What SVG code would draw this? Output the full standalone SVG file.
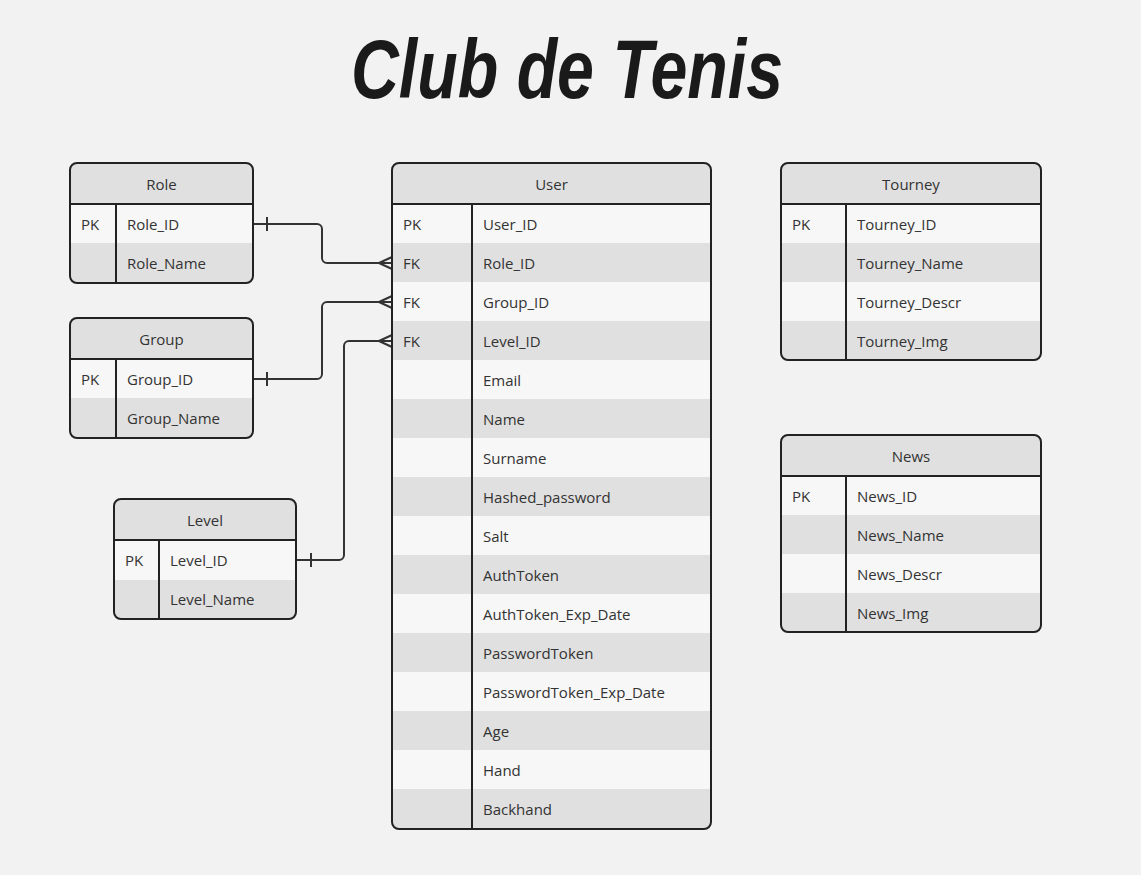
<svg xmlns="http://www.w3.org/2000/svg" width="1141" height="875" viewBox="0 0 1141 875">
<style>
.bg{fill:#f2f2f2}
.hd{fill:#e0e0e0}
.lt{fill:#f7f7f7}
.dk{fill:#e0e0e0}
.ol{fill:none;stroke:#222;stroke-width:2}
.ln{stroke:#222;stroke-width:2;fill:none}
.t{font-family:"Open Sans","Noto Sans",sans-serif;font-size:15px;fill:#333}
.c{text-anchor:middle}
.title{font-family:"Liberation Sans",sans-serif;font-weight:bold;font-style:italic;font-size:84px;fill:#1a1a1a}
.cn{stroke:#333;stroke-width:2;fill:none;stroke-linejoin:round}
</style>
<defs>
<clipPath id="cRole"><rect x="70" y="163" width="183" height="120" rx="7"/></clipPath>
<clipPath id="cGroup"><rect x="70" y="318" width="183" height="120" rx="7"/></clipPath>
<clipPath id="cLevel"><rect x="114" y="499" width="182" height="120" rx="7"/></clipPath>
<clipPath id="cUser"><rect x="392" y="163" width="319" height="666" rx="7"/></clipPath>
<clipPath id="cTourney"><rect x="781" y="163" width="260" height="197" rx="7"/></clipPath>
<clipPath id="cNews"><rect x="781" y="435" width="260" height="197" rx="7"/></clipPath>
</defs>
<rect class="bg" x="0" y="0" width="1141" height="875"/>
<text class="title c" x="567" y="98" textLength="432" lengthAdjust="spacingAndGlyphs">Club de Tenis</text>

<g id="connectors">
<path class="cn" d="M253,224 H317 a5,5 0 0 1 5,5 V258 a5,5 0 0 0 5,5 H392"/>
<path class="cn" d="M267,217 V231"/>
<path class="cn" d="M392,257 L379,263 L392,269"/>
<path class="cn" d="M253,379 H317 a5,5 0 0 0 5,-5 V307 a5,5 0 0 1 5,-5 H392"/>
<path class="cn" d="M267,372 V386"/>
<path class="cn" d="M392,296 L379,302 L392,308"/>
<path class="cn" d="M296,560 H339 a5,5 0 0 0 5,-5 V346 a5,5 0 0 1 5,-5 H392"/>
<path class="cn" d="M311,553 V567"/>
<path class="cn" d="M392,335 L379,341 L392,347"/>
</g>

<g id="role">
<g clip-path="url(#cRole)">
<rect class="hd" x="70" y="163" width="183" height="41"/>
<rect class="lt" x="70" y="204" width="183" height="39"/>
<rect class="dk" x="70" y="243" width="183" height="40"/>
</g>
<line class="ln" x1="70" y1="204" x2="253" y2="204"/>
<line class="ln" x1="116" y1="204" x2="116" y2="283"/>
<rect class="ol" x="70" y="163" width="183" height="120" rx="7"/>
<text class="t c" x="161.5" y="190">Role</text>
<text class="t" x="81" y="230">PK</text>
<text class="t" x="127" y="230">Role_ID</text>
<text class="t" x="127" y="269">Role_Name</text>
</g>

<g id="group">
<g clip-path="url(#cGroup)">
<rect class="hd" x="70" y="318" width="183" height="41"/>
<rect class="lt" x="70" y="359" width="183" height="39"/>
<rect class="dk" x="70" y="398" width="183" height="40"/>
</g>
<line class="ln" x1="70" y1="359" x2="253" y2="359"/>
<line class="ln" x1="116" y1="359" x2="116" y2="438"/>
<rect class="ol" x="70" y="318" width="183" height="120" rx="7"/>
<text class="t c" x="161.5" y="345">Group</text>
<text class="t" x="81" y="385">PK</text>
<text class="t" x="127" y="385">Group_ID</text>
<text class="t" x="127" y="424">Group_Name</text>
</g>

<g id="level">
<g clip-path="url(#cLevel)">
<rect class="hd" x="114" y="499" width="182" height="41"/>
<rect class="lt" x="114" y="540" width="182" height="40"/>
<rect class="dk" x="114" y="580" width="182" height="39"/>
</g>
<line class="ln" x1="114" y1="540" x2="296" y2="540"/>
<line class="ln" x1="159" y1="540" x2="159" y2="619"/>
<rect class="ol" x="114" y="499" width="182" height="120" rx="7"/>
<text class="t c" x="205" y="526">Level</text>
<text class="t" x="125" y="566">PK</text>
<text class="t" x="170" y="566">Level_ID</text>
<text class="t" x="170" y="605">Level_Name</text>
</g>

<g id="user">
<g clip-path="url(#cUser)">
<rect class="lt" x="392" y="163" width="319" height="666"/>
<rect class="hd" x="392" y="163" width="319" height="41"/>
<rect class="dk" x="392" y="243" width="319" height="39"/>
<rect class="dk" x="392" y="321" width="319" height="39"/>
<rect class="dk" x="392" y="399" width="319" height="39"/>
<rect class="dk" x="392" y="477" width="319" height="39"/>
<rect class="dk" x="392" y="555" width="319" height="39"/>
<rect class="dk" x="392" y="633" width="319" height="39"/>
<rect class="dk" x="392" y="711" width="319" height="39"/>
<rect class="dk" x="392" y="789" width="319" height="40"/>
</g>
<line class="ln" x1="392" y1="204" x2="711" y2="204"/>
<line class="ln" x1="472" y1="204" x2="472" y2="829"/>
<rect class="ol" x="392" y="163" width="319" height="666" rx="7"/>
<text class="t c" x="551.5" y="190">User</text>
<text class="t" x="403" y="230">PK</text>
<text class="t" x="403" y="269">FK</text>
<text class="t" x="403" y="308">FK</text>
<text class="t" x="403" y="347">FK</text>
<text class="t" x="483" y="230">User_ID</text>
<text class="t" x="483" y="269">Role_ID</text>
<text class="t" x="483" y="308">Group_ID</text>
<text class="t" x="483" y="347">Level_ID</text>
<text class="t" x="483" y="386">Email</text>
<text class="t" x="483" y="425">Name</text>
<text class="t" x="483" y="464">Surname</text>
<text class="t" x="483" y="503">Hashed_password</text>
<text class="t" x="483" y="542">Salt</text>
<text class="t" x="483" y="581">AuthToken</text>
<text class="t" x="483" y="620">AuthToken_Exp_Date</text>
<text class="t" x="483" y="659">PasswordToken</text>
<text class="t" x="483" y="698">PasswordToken_Exp_Date</text>
<text class="t" x="483" y="737">Age</text>
<text class="t" x="483" y="776">Hand</text>
<text class="t" x="483" y="815">Backhand</text>
</g>

<g id="tourney">
<g clip-path="url(#cTourney)">
<rect class="lt" x="781" y="163" width="260" height="197"/>
<rect class="hd" x="781" y="163" width="260" height="41"/>
<rect class="dk" x="781" y="243" width="260" height="39"/>
<rect class="dk" x="781" y="321" width="260" height="39"/>
</g>
<line class="ln" x1="781" y1="204" x2="1041" y2="204"/>
<line class="ln" x1="846" y1="204" x2="846" y2="360"/>
<rect class="ol" x="781" y="163" width="260" height="197" rx="7"/>
<text class="t c" x="911" y="190">Tourney</text>
<text class="t" x="792" y="230">PK</text>
<text class="t" x="857" y="230">Tourney_ID</text>
<text class="t" x="857" y="269">Tourney_Name</text>
<text class="t" x="857" y="308">Tourney_Descr</text>
<text class="t" x="857" y="347">Tourney_Img</text>
</g>

<g id="news">
<g clip-path="url(#cNews)">
<rect class="lt" x="781" y="435" width="260" height="197"/>
<rect class="hd" x="781" y="435" width="260" height="41"/>
<rect class="dk" x="781" y="515" width="260" height="39"/>
<rect class="dk" x="781" y="593" width="260" height="39"/>
</g>
<line class="ln" x1="781" y1="476" x2="1041" y2="476"/>
<line class="ln" x1="846" y1="476" x2="846" y2="632"/>
<rect class="ol" x="781" y="435" width="260" height="197" rx="7"/>
<text class="t c" x="911" y="462">News</text>
<text class="t" x="792" y="502">PK</text>
<text class="t" x="857" y="502">News_ID</text>
<text class="t" x="857" y="541">News_Name</text>
<text class="t" x="857" y="580">News_Descr</text>
<text class="t" x="857" y="619">News_Img</text>
</g>
</svg>
